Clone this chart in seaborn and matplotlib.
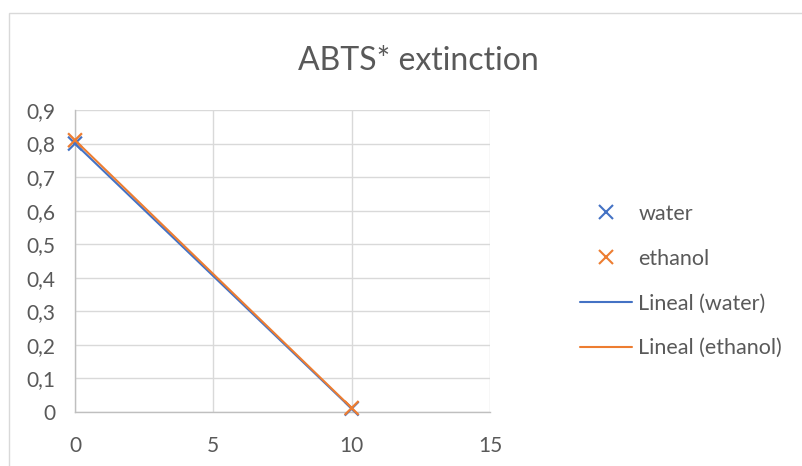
import matplotlib
matplotlib.use("Agg")
import matplotlib.pyplot as plt
import seaborn as sns
import pandas as pd
from matplotlib.lines import Line2D
from matplotlib.patches import Rectangle
from matplotlib.ticker import FuncFormatter

time = [0, 10]
water = [0.80, 0.010]
ethanol = [0.81, 0.012]
series_names = ["water", "ethanol"]
trend_names = ["Lineal (water)", "Lineal (ethanol)"]
title = "ABTS* extinction"
xticks = [0, 5, 10, 15]
yticks = [0, 0.1, 0.2, 0.3, 0.4, 0.5, 0.6, 0.7, 0.8, 0.9]

sns.set_theme(style="white")
plt.rcParams['font.family'] = ['Lato', 'DejaVu Sans']

colors = ["#4472C4", "#ED7D31"]
text_color = "#595959"

df = pd.DataFrame({
    "x": time * 2,
    "y": water + ethanol,
    "series": [series_names[0]] * 2 + [series_names[1]] * 2,
})

fig = plt.figure(figsize=(8.03, 4.66), dpi=100)
fig.patches.append(Rectangle((9 / 803, -0.1), 1.2, (466 - 13) / 466 + 0.1,
                             transform=fig.transFigure, fill=False,
                             edgecolor="#d9d9d9", linewidth=1.0))
ax = fig.add_axes([75 / 803, 54 / 466, (490 - 75) / 803, (412 - 110) / 466])

sns.lineplot(data=df, x="x", y="y", hue="series", palette=colors,
             linewidth=1.5, ax=ax, legend=False, zorder=3)
sns.scatterplot(data=df, x="x", y="y", hue="series", palette=colors,
                marker="x", s=100, linewidth=1.6, ax=ax, legend=False,
                zorder=4, clip_on=False)

ax.set_xlim(0, 15)
ax.set_ylim(0, 0.9)
ax.set_xticks(xticks)
ax.set_yticks(yticks)
ax.yaxis.set_major_formatter(FuncFormatter(lambda v, p: "0" if v == 0 else f"{v:.1f}".replace(".", ",")))
ax.grid(True, color="#d9d9d9", linewidth=1.0)
ax.set_axisbelow(True)
for s in ["top", "right"]:
    ax.spines[s].set_visible(False)
for s in ["left", "bottom"]:
    ax.spines[s].set_color("#bfbfbf")
    ax.spines[s].set_linewidth(1.0)
ax.tick_params(axis="both", length=0, labelsize=15, labelcolor=text_color)
ax.tick_params(axis="x", pad=17)
ax.tick_params(axis="y", pad=14)
ax.set_xlabel("")
ax.set_ylabel("")

fig.text(418 / 803, 1 - 61 / 466, title, ha="center", va="center",
         fontsize=23, color=text_color)

handles = [
    Line2D([], [], linestyle="none", marker="x", color=colors[0], markersize=10, markeredgewidth=1.5),
    Line2D([], [], linestyle="none", marker="x", color=colors[1], markersize=10, markeredgewidth=1.5),
    Line2D([], [], color=colors[0], linewidth=1.5),
    Line2D([], [], color=colors[1], linewidth=1.5),
]
labels = series_names + trend_names
leg = fig.legend(handles, labels, loc="center left",
                 bbox_to_anchor=(561 / 803, 1 - 281 / 466),
                 frameon=False, fontsize=15.5, labelcolor=text_color,
                 handlelength=2.4, handletextpad=0.3, labelspacing=1.15)

fig.savefig("out.png", dpi=100)
